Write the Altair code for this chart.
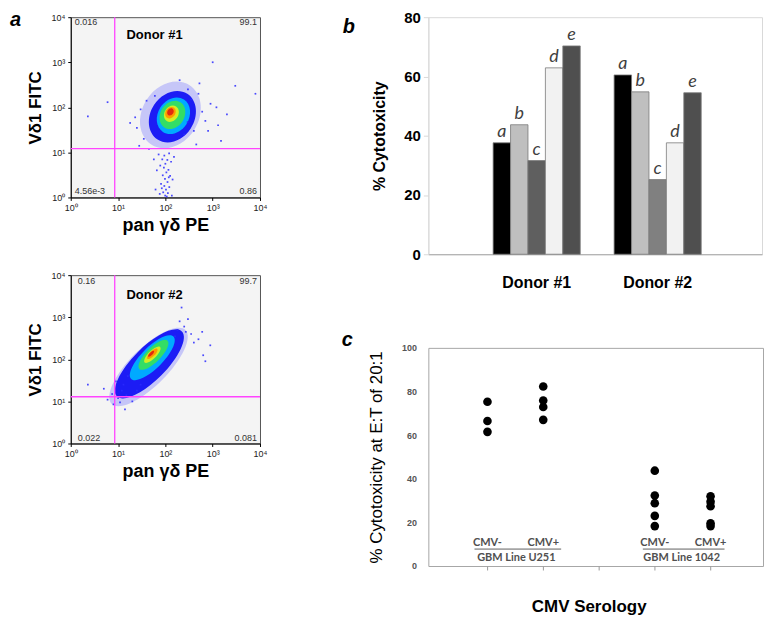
import altair as alt
import pandas as pd

# ---------------- data ----------------
FONT = "Liberation Sans"

# flow cytometry density levels (outer halo -> dense core)
levels = ["halo", "blue", "cyan", "green", "yellow", "orange", "red"]
level_colors = ["#7070ff", "#1c1cf5", "#00aaff", "#33dd66", "#d4ee22", "#ff9a00", "#e02a10"]
level_opacity = [0.35, 1, 1, 1, 1, 1, 1]

# Donor #1 (pan gd PE, Vd1 FITC) centres of density levels
d1_x = [128, 141, 148, 141, 134, 128, 128]
d1_y = [68, 62, 65, 68, 72, 76, 79]
# sparse events Donor #1
d1_dot_x = [72, 95, 120, 86, 110, 100, 132, 78, 93, 116, 105, 88, 126, 98, 111, 81, 95, 121, 103, 90,
            113, 76, 62, 142, 66, 152, 57, 137, 99, 107, 84, 118,
            1000, 525, 295, 2000, 8000, 6, 2.3, 23, 30, 25, 400, 600, 700, 1300, 350, 450, 35, 40,
            250, 900, 1500, 18, 3000, 200, 500, 800, 1200, 45, 60, 300, 28]
d1_dot_y = [9, 8.5, 9.5, 7, 6.8, 5.6, 6.2, 5.1, 4.6, 4.1, 3.6, 3.1, 3.0, 2.6, 2.2, 2.0, 1.8, 1.7, 1.5, 1.3,
            1.25, 1.2, 1.5, 2.5, 4.0, 8.0, 7.0, 1.1, 1.1, 1.05, 1.6, 2.8,
            1000, 340, 47, 70, 200, 130, 63, 60, 90, 35, 30, 80, 50, 40, 150, 15, 20, 140,
            25, 120, 18, 45, 300, 400, 200, 30, 100, 12, 180, 250, 14]
d1_gate = [8.5, 12.1]
d1_quad = ["0.016", "99.1", "4.56e-3", "0.86"]

# Donor #2
d2_x = [44, 46, 53, 56, 53, 53, 50]
d2_y = [66, 78, 109, 128, 128, 135, 135]
d2_dot_x = [220, 890, 630, 2.3, 8, 14, 300, 250, 350, 500, 180, 10, 6, 12, 9, 20, 400, 700, 5, 15,
            600, 16, 25, 30, 11, 7.5, 200, 270, 160, 13]
d2_dot_y = [1700, 215, 125, 25, 8.5, 6.5, 900, 600, 400, 300, 500, 12, 11, 18, 30, 10, 250, 90, 20, 14,
            450, 40, 18, 25, 9.5, 15, 800, 450, 350, 25]
d2_gate = [8.5, 12.9]
d2_quad = ["0.16", "99.7", "0.022", "0.081"]

decades = [1, 10, 100, 1000, 10000]

# panel b
donor_names = ["Donor #1", "Donor #2"]
bar_letters = ["a", "b", "c", "d", "e"]
bar_colors = ["#000000", "#bfbfbf", "#5f5f5f", "#f2f2f2", "#4f4f4f"]
donor1_cyto = [37.6, 43.7, 31.6, 62.9, 70.3]
donor2_cyto = [60.5, 54.8, 25.2, 37.6, 54.5]

# panel c
c_cats = ["U251 CMV-", "U251 CMV+", "gap", "1042 CMV-", "1042 CMV+"]
u251_neg = [75.3, 66.5, 61.5]
u251_pos = [82.3, 75.9, 72.9, 67.0]
l1042_neg = [43.7, 32.3, 28.8, 23.0, 18.3]
l1042_pos = [32.0, 29.5, 27.4, 19.6, 18.3]

SUP = "'10' + ['\u2070','\u00b9','\u00b2','\u00b3','\u2074'][round(log(datum.value)/LN10)]"


def anchor(x1, y1, x2, y2):
    # invisible layout box that fixes each panel's bounds
    return alt.Chart(pd.DataFrame({"k": [0]})).mark_rect(
        fill="#ffffff", fillOpacity=0, strokeOpacity=0).encode(
        x=alt.value(x1), y=alt.value(y1), x2=alt.value(x2), y2=alt.value(y2))


def vtext(txt, x, y, **kw):
    base = dict(font=FONT, fontSize=9, color="#333333", baseline="middle", align="left")
    base.update(kw)
    return alt.Chart(pd.DataFrame({"k": [0]})).mark_text(text=txt, **base).encode(
        x=alt.value(x), y=alt.value(y))


def flow(lx, ly, dx, dy, gate, quad, donor, w, h, path, ang, sizes, donor_xy, quad_xy, anc, letter=None):
    xsc = alt.Scale(type="log", domain=[1, 10000], nice=False)
    ysc = alt.Scale(type="log", domain=[1, 10000], nice=False)
    xax = alt.Axis(values=decades, labelExpr=SUP, title="pan γδ PE", labelFont=FONT, labelFontSize=9,
                   labelColor="#222", tickSize=3, tickColor="black", domainColor="black", grid=False,
                   labelPadding=3, titleFont=FONT, titleFontSize=18, titleFontWeight="bold",
                   titleColor="black", titlePadding=4, labelFlush=False)
    yax = alt.Axis(values=decades, labelExpr=SUP, title="Vδ1 FITC", labelFont=FONT, labelFontSize=9,
                   labelColor="#222", tickSize=3, tickColor="black", domainColor="black", grid=False,
                   labelPadding=3, titleFont=FONT, titleFontSize=17, titleFontWeight="bold",
                   titleColor="black", titlePadding=6, labelFlush=False)
    X = alt.X("fx:Q", scale=xsc, axis=xax)
    Y = alt.Y("fy:Q", scale=ysc, axis=yax)
    layers = []
    for i, lev in enumerate(levels):
        layers.append(
            alt.Chart(pd.DataFrame({"fx": [lx[i]], "fy": [ly[i]]})).mark_point(
                shape=path, filled=True, angle=ang, strokeWidth=0, size=sizes[i],
                color=level_colors[i], opacity=level_opacity[i]).encode(x=X, y=Y))
    dots = alt.Chart(pd.DataFrame({"fx": dx, "fy": dy})).mark_point(
        shape="square", filled=True, size=3, color="#2a2aff", opacity=0.85, strokeWidth=0).encode(x=X, y=Y)
    vline = alt.Chart(pd.DataFrame({"fx": [gate[0]]})).mark_rule(color="#ff44ff", strokeWidth=1.3).encode(x=X)
    hline = alt.Chart(pd.DataFrame({"fy": [gate[1]]})).mark_rule(color="#ff44ff", strokeWidth=1.3).encode(y=Y)
    qx, qy = quad_xy
    layers += [dots, vline, hline,
               vtext(quad[0], qx, qy), vtext(quad[1], w - 3, qy, align="right"),
               vtext(quad[2], qx, h - 6), vtext(quad[3], w - 3, h - 6, align="right"),
               vtext(donor, donor_xy[0], donor_xy[1], fontSize=13, fontWeight="bold", color="black"),
               anchor(*anc)]
    if letter:
        layers.append(vtext("a", letter[0], letter[1], fontSize=20, fontWeight="bold",
                            fontStyle="italic", color="black", baseline="alphabetic"))
    return alt.layer(*layers).properties(
        width=w, height=h, view=alt.ViewBackground(fill="#f4f4f4", stroke="#555555", strokeWidth=1))


ell1 = "M-1,0A1,0.8,0,1,0,1,0A1,0.8,0,1,0,-1,0Z"
ell2 = "M-1,0A1,0.36,0,1,0,1,0A1,0.36,0,1,0,-1,0Z"

a1 = flow(d1_x, d1_y, d1_dot_x, d1_dot_y, d1_gate, d1_quad, "Donor #1", 190, 181, ell1, 303,
          [5000, 3000, 1500, 900, 300, 150, 60], (56, 18), (4, 5), (-62, -7, 200, 223), letter=(-61, 9))
a2 = flow(d2_x, d2_y, d2_dot_x, d2_dot_y, d2_gate, d2_quad, "Donor #2", 190, 169, ell2, 315,
          [11000, 8500, 3600, 1600, 484, 196, 64], (56, 20), (7, 6), (-62, -10, 200, 218))

# ---------------- panel b ----------------
bar_df = pd.DataFrame({
    "donor": [donor_names[0]] * 5 + [donor_names[1]] * 5,
    "letter": bar_letters * 2,
    "cyto": donor1_cyto + donor2_cyto,
})
xb = alt.X("donor:N", scale=alt.Scale(domain=donor_names, paddingInner=0.28, paddingOuter=0.519, align=0.516),
           axis=alt.Axis(title=None, labelAngle=0, labelFont=FONT, labelFontSize=16, labelFontWeight="bold",
                         labelColor="black", labelPadding=20, ticks=False, domainColor="#a6a6a6", grid=False))
xo = alt.XOffset("letter:N", scale=alt.Scale(domain=bar_letters, paddingInner=0, paddingOuter=0))
yb = alt.Y("cyto:Q", scale=alt.Scale(domain=[0, 80], nice=False),
           axis=alt.Axis(values=[0, 20, 40, 60, 80], title="% Cytotoxicity", labelFont=FONT, labelFontSize=15,
                         labelFontWeight="bold", labelColor="black", domainColor="#d9d9d9", tickColor="#d9d9d9",
                         tickSize=5, labelPadding=3, grid=False, titleFont=FONT, titleFontSize=16,
                         titleFontWeight="bold", titleColor="black", titlePadding=16))
bars = alt.Chart(bar_df).mark_bar(stroke="#7a7a7a", strokeWidth=0.8).encode(
    x=xb, xOffset=xo, y=yb,
    color=alt.condition("datum.donor == 'Donor #2' && datum.letter == 'c'", alt.value("#808080"),
                        alt.Color("letter:N", scale=alt.Scale(domain=bar_letters, range=bar_colors), legend=None)))
bar_txt = alt.Chart(bar_df).mark_text(font="Lato", fontStyle="italic", fontSize=18, color="#404040",
                                      baseline="alphabetic", dy=-6).encode(x=xb, xOffset=xo, y=yb, text="letter:N")
b = alt.layer(bars, bar_txt,
              vtext("b", -86, 16, fontSize=20, fontWeight="bold", fontStyle="italic", color="black",
                    baseline="alphabetic"),
              anchor(-88, -7, 336, 290)).properties(
    width=335, height=238, view=alt.ViewBackground(fill="white", stroke="#d9d9d9", strokeWidth=1))

# ---------------- panel c ----------------
c_df = pd.DataFrame({
    "cat": [c_cats[0]] * len(u251_neg) + [c_cats[1]] * len(u251_pos)
           + [c_cats[3]] * len(l1042_neg) + [c_cats[4]] * len(l1042_pos),
    "val": u251_neg + u251_pos + l1042_neg + l1042_pos,
})
xc = alt.X("cat:N", scale=alt.Scale(type="point", domain=c_cats, padding=1.04, align=0.53),
           axis=alt.Axis(labels=False, title="CMV Serology", ticks=True, tickSize=4, tickColor="#999999",
                         domain=False, grid=False, titleFont=FONT, titleFontSize=17, titleFontWeight="bold",
                         titleColor="black", titlePadding=28, titleX=161))
yc = alt.Y("val:Q", scale=alt.Scale(domain=[0, 100], nice=False),
           axis=alt.Axis(values=[0, 20, 40, 60, 80, 100], title="% Cytotoxicity at E:T of 20:1",
                         labelFont=FONT, labelFontSize=9, labelFontWeight="bold", labelColor="#555555",
                         ticks=False, domain=False, grid=False, labelPadding=12, titleFont=FONT,
                         titleFontSize=17, titleFontWeight="normal", titleColor="black", titlePadding=16))
pts = alt.Chart(c_df).mark_circle(size=75, color="black", opacity=1).encode(x=xc, y=yc)


def ctext(txt, cat, y, dx=0):
    return alt.Chart(pd.DataFrame({"k": [0]})).mark_text(
        text=txt, font="Lato", fontSize=11, fontWeight="bold", color="#505050", dx=dx, baseline="middle").encode(
        x=alt.datum(cat), y=alt.value(y))


def uline(c1, c2, o1, o2):
    return alt.Chart(pd.DataFrame({"k": [0]})).mark_rule(color="#606060", strokeWidth=1, xOffset=o1, x2Offset=o2).encode(
        x=alt.datum(c1), x2=alt.datum(c2), y=alt.value(202))


c = alt.layer(
    pts,
    ctext("CMV-", c_cats[0], 195.5), ctext("CMV+", c_cats[1], 195.5),
    ctext("GBM Line U251", c_cats[0], 210.5, dx=29),
    ctext("CMV-", c_cats[3], 195.5), ctext("CMV+", c_cats[4], 195.5),
    ctext("GBM Line 1042", c_cats[3], 210.5, dx=27),
    uline(c_cats[0], c_cats[1], -13, 18), uline(c_cats[3], c_cats[4], -12, 14),
    vtext("c", -87, -2, fontSize=20, fontWeight="bold", fontStyle="italic", color="black", baseline="alphabetic"),
    anchor(-88, -20, 336, 273),
).properties(width=336, height=219, view=alt.ViewBackground(fill="white", stroke="#a6a6a6", strokeWidth=1))

left = alt.vconcat(a1, a2, spacing=24)
right = alt.vconcat(b, c, spacing=20)
chart = alt.hconcat(left, right, spacing=69).properties(padding=0).configure(font=FONT)

chart.save("out.html", embed_options={"renderer": "svg", "actions": False})
